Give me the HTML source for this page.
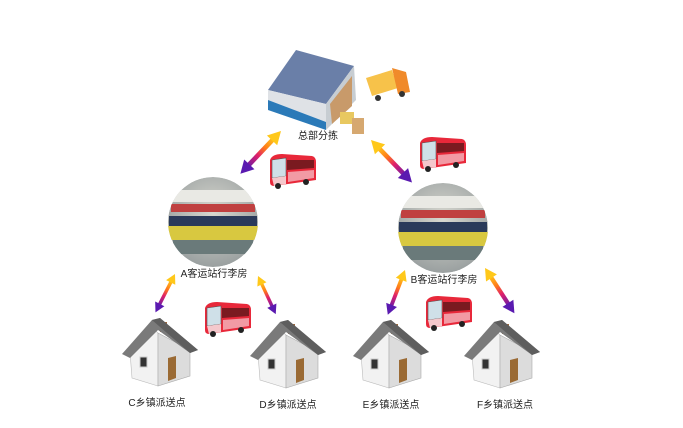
<!DOCTYPE html>
<html><head><meta charset="utf-8"><style>
html,body{margin:0;padding:0;background:#fff;}
svg{display:block}
text{font-family:"Liberation Sans","Noto Sans CJK SC",sans-serif;font-size:10px;fill:#222;}
</style></head><body>
<svg width="683" height="428" viewBox="0 0 683 428" xmlns="http://www.w3.org/2000/svg">
<defs>
<linearGradient id="ag" x1="0" y1="0" x2="1" y2="0">
<stop offset="0" stop-color="#ffd21a"/><stop offset="0.35" stop-color="#ff7a1a"/><stop offset="0.6" stop-color="#e0206a"/><stop offset="1" stop-color="#5a1ab0"/>
</linearGradient>
<g id="arrow">
<rect x="14" y="-4" width="72" height="8" fill="url(#ag)"/>
<polygon points="0,0 22,-12 22,12" fill="#ffc81a"/>
<polygon points="100,0 78,-12 78,12" fill="#5a1ab0"/>
</g>
<g id="bus">
<path d="M2,8 Q4,2 14,2 L44,4 Q48,5 48,10 L48,28 L6,34 Q2,34 2,30 Z" fill="#e8283a"/>
<path d="M4,8 L18,6 L18,24 L4,26 Z" fill="#cfe0e8" stroke="#555" stroke-width="0.6"/>
<path d="M19,8 L46,8 L46,16 L19,18 Z" fill="#7a1a20"/>
<path d="M4,26 L18,24 L18,32 L6,34 Z" fill="#f4c8cc"/>
<path d="M20,20 L46,18 L46,26 L20,30 Z" fill="#f29aa4"/>
<circle cx="10" cy="34" r="3" fill="#222"/><circle cx="38" cy="30" r="3" fill="#222"/>
</g>
<g id="house">
<polygon points="130,352 153,328 158,333 158,386 132,378" fill="#f2f2f2" stroke="#bbb" stroke-width="0.6"/>
<polygon points="158,333 190,350 190,376 158,386" fill="#dcdcdc" stroke="#aaa" stroke-width="0.6"/>
<rect x="160" y="322" width="7" height="10" fill="#a0683a"/>
<polygon points="122,354 152,320 160,318 198,350 190,353 158,330 130,358" fill="#7a7a7a"/>
<polygon points="152,320 160,318 198,350 190,353" fill="#5e5e5e"/>
<rect x="140" y="357" width="7" height="10" fill="#333" stroke="#ccc" stroke-width="1"/>
<polygon points="168,358 176,356 176,378 168,381" fill="#9a6a34"/>
</g>
<radialGradient id="cg" cx="0.5" cy="0.4" r="0.6"><stop offset="0" stop-color="#d8d8d0"/><stop offset="1" stop-color="#9aa0a0"/></radialGradient>
<g id="station">
<circle r="45" fill="url(#cg)"/>
<rect x="-45" y="-32" width="90" height="12" fill="#e9e9e4"/>
<rect x="-42" y="-18" width="84" height="8" fill="#c04040"/>
<rect x="-44" y="-6" width="88" height="10" fill="#2a3a5a"/>
<rect x="-45" y="4" width="90" height="14" fill="#d8c840"/>
<rect x="-40" y="18" width="80" height="14" fill="#6a7a7a"/>
</g>
<clipPath id="cc"><circle r="45"/></clipPath>
</defs>

<polygon points="268,90 296,50 354,66 326,104" fill="#6a7fa8"/>
<polygon points="268,90 326,104 326,122 268,100" fill="#dfe2e6"/>
<polygon points="268,100 326,122 326,130 268,110" fill="#2b7ab8"/>
<polygon points="326,104 354,66 356,100 326,130" fill="#c7cdd2"/>
<polygon points="330,104 352,76 352,106 332,124" fill="#c89a6a"/>
<rect x="340" y="112" width="14" height="12" fill="#e8c860"/>
<rect x="352" y="118" width="12" height="16" fill="#d6a870"/>
<polygon points="366,78 392,70 398,88 372,96" fill="#f7c24a"/>
<polygon points="392,68 406,72 410,92 398,94" fill="#f08a2a"/>
<circle cx="378" cy="98" r="3" fill="#333"/><circle cx="402" cy="94" r="3" fill="#333"/>
<text x="318" y="139" text-anchor="middle">总部分拣</text>

<use href="#arrow" transform="translate(281,131) rotate(133.5) scale(0.59)"/>
<use href="#arrow" transform="translate(371,140) rotate(46) scale(0.59)"/>
<use href="#bus" transform="translate(268,152)"/>
<use href="#bus" transform="translate(418,135)"/>

<g transform="translate(213,222)"><g clip-path="url(#cc)"><use href="#station"/></g></g>
<g transform="translate(443,228)"><g clip-path="url(#cc)"><use href="#station"/></g></g>
<text x="214" y="277" text-anchor="middle">A客运站行李房</text>
<text x="444" y="283" text-anchor="middle">B客运站行李房</text>

<use href="#arrow" transform="translate(175,274) rotate(117) scale(0.43)"/>
<use href="#arrow" transform="translate(258,276) rotate(65) scale(0.42)"/>
<use href="#arrow" transform="translate(405,270) rotate(111) scale(0.48)"/>
<use href="#arrow" transform="translate(485,268) rotate(57) scale(0.54)"/>
<use href="#bus" transform="translate(203,300)"/>
<use href="#bus" transform="translate(424,294)"/>

<use href="#house"/>
<use href="#house" transform="translate(128,2)"/>
<use href="#house" transform="translate(231,2)"/>
<use href="#house" transform="translate(342,2)"/>
<text x="157" y="406" text-anchor="middle">C乡镇派送点</text>
<text x="288" y="408" text-anchor="middle">D乡镇派送点</text>
<text x="391" y="408" text-anchor="middle">E乡镇派送点</text>
<text x="505" y="408" text-anchor="middle">F乡镇派送点</text>
</svg>
</body></html>
